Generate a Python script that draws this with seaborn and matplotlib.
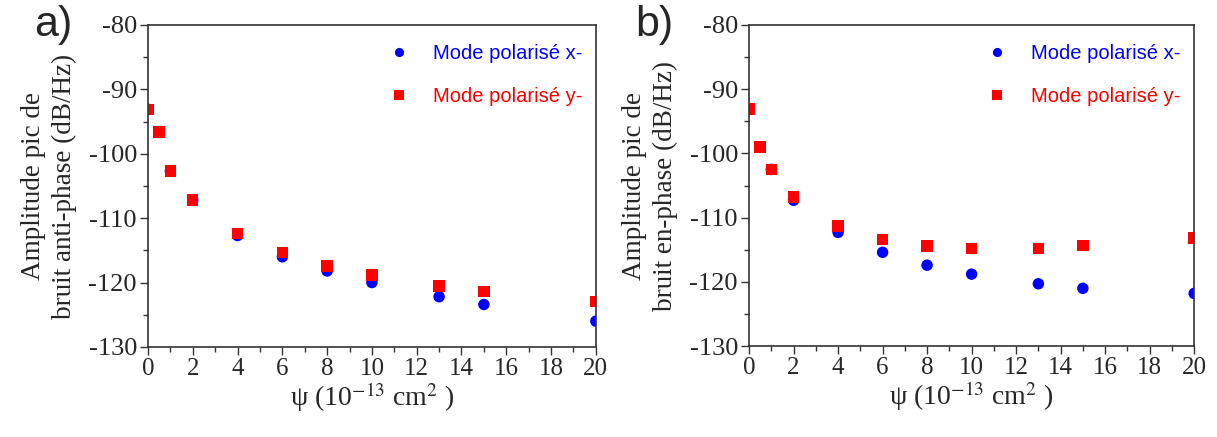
import numpy as np
import pandas as pd
import matplotlib
matplotlib.use("Agg")
import matplotlib.pyplot as plt
import seaborn as sns

# psi values (10^-13 cm^2)
psi = [0, 0.5, 1, 2, 4, 6, 8, 10, 13, 15, 20]

# a) anti-phase noise peak amplitude (dB/Hz)
anti_x = [-93.1, -96.6, -102.7, -107.2, -112.7, -116.0, -118.2, -120.0, -122.2, -123.4, -126.0]
anti_y = [-93.1, -96.6, -102.7, -107.2, -112.4, -115.3, -117.4, -118.8, -120.5, -121.4, -122.9]

# b) in-phase noise peak amplitude (dB/Hz)
inph_x = [-93.1, -99.0, -102.5, -107.3, -112.3, -115.4, -117.4, -118.8, -120.3, -121.0, -121.8]
inph_y = [-93.1, -99.0, -102.5, -106.8, -111.3, -113.4, -114.4, -114.8, -114.8, -114.3, -113.2]

label_x = "Mode polarisé x-"
label_y = "Mode polarisé y-"
ylabels = ["Amplitude pic de\nbruit anti-phase (dB/Hz)",
           "Amplitude pic de\nbruit en-phase (dB/Hz)"]
panel_tags = ["a)", "b)"]

sns.set_style("ticks")
plt.rcParams["font.family"] = ["Liberation Serif", "DejaVu Serif"]
plt.rcParams["mathtext.fontset"] = "stix"
plt.rcParams["axes.unicode_minus"] = False


def make_df(vx, vy):
    return pd.DataFrame({
        "psi": psi + psi,
        "amp": vx + vy,
        "mode": [label_x] * len(psi) + [label_y] * len(psi),
    })


fig = plt.figure(figsize=(12.17, 4.37), dpi=100)
ax_a = fig.add_axes([0.1216, 0.206, 0.368, 0.737])
ax_b = fig.add_axes([0.6155, 0.208, 0.3657, 0.735])

frames = [make_df(anti_x, anti_y), make_df(inph_x, inph_y)]

for ax, df, ylab, tag in zip([ax_a, ax_b], frames, ylabels, panel_tags):
    sns.scatterplot(data=df, x="psi", y="amp", hue="mode", style="mode",
                    palette={label_x: "#0000ff", label_y: "#ff0000"},
                    markers={label_x: "o", label_y: "s"},
                    s=68, linewidth=0, ax=ax)
    ax.set_xlim(0, 20)
    ax.set_ylim(-130, -80)
    ax.set_xticks(np.arange(0, 21, 2))
    ax.set_xticks(np.arange(1, 20, 2), minor=True)
    ax.set_yticks(np.arange(-130, -79, 10))
    ax.set_yticks(np.arange(-125, -80, 10), minor=True)
    ax.tick_params(which="major", length=6, width=1, color="#333333")
    ax.tick_params(which="minor", length=3.5, width=1, color="#333333")
    ax.tick_params(axis="x", labelsize=18, pad=2)
    ax.tick_params(axis="y", labelsize=19, pad=2)
    for sp in ax.spines.values():
        sp.set_color("#333333")
        sp.set_linewidth(1.2)
    ax.set_xlabel("ψ (10$^{-13}$ cm$^{2}$ )", fontsize=20, labelpad=0)
    ax.set_ylabel(ylab, fontsize=19.5, linespacing=1.3, labelpad=8)

    handles, labels = ax.get_legend_handles_labels()
    leg = ax.legend(handles, labels, loc="upper right", frameon=False,
                    bbox_to_anchor=(1.01, 0.997), labelspacing=1.2,
                    handletextpad=0.7, markerscale=0.8,
                    prop={"family": "Liberation Sans", "size": 14.5})
    for txt, col in zip(leg.get_texts(), ["#0000ff", "#ff0000"]):
        txt.set_color(col)

    ax.text(-0.255, 1.0, tag, transform=ax.transAxes, fontsize=31,
            family="Liberation Sans", va="center", ha="left")

fig.savefig("out.png", dpi=100)
